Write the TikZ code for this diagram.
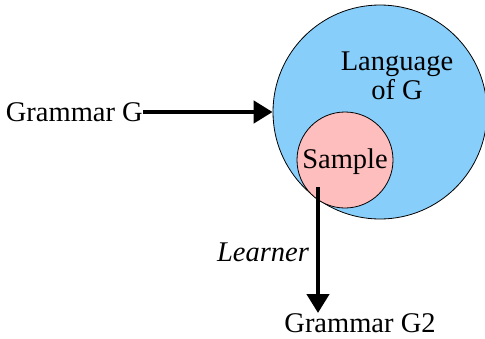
\documentclass[tikz,border=0pt]{standalone}
\usepackage{fontspec}
\setmainfont{Liberation Serif}
\usetikzlibrary{arrows.meta}
\definecolor{langblue}{RGB}{135,206,250}
\definecolor{samplepink}{RGB}{255,190,190}
\begin{document}
\begin{tikzpicture}[x=1pt,y=-1pt,
  txt/.style={font=\fontsize{28.5}{29}\selectfont, inner sep=0pt},
  bigarrow/.style={line width=4.5pt, -{Triangle[length=19pt,width=22pt]}},
  blob/.style={circle, draw=black, line width=0.8pt, inner sep=0pt}]
\useasboundingbox (0,0) rectangle (485,338);
\node[blob, fill=langblue, minimum size=214pt] (lang) at (380,112) {};
\node[blob, fill=samplepink, minimum size=96pt] (sample) at (345,160) {};
\node[txt, align=center] (langtxt) at (397,76) {Language\\of G};
\node[txt] (sampletxt) at (345,162) {Sample};
\node[txt, anchor=base east] (g) at (143,121) {Grammar G};
\node[txt, anchor=base] (g2) at (360,332) {Grammar G2};
\node[txt, font=\fontsize{28.5}{29}\selectfont\itshape] (learner) at (263,252) {Learner};
\coordinate (start) at (318,187);
\coordinate (end) at (318,313);
\draw[bigarrow] (g.east |- lang.west) -- (lang.west);
\draw[bigarrow] (start) -- (end);
\end{tikzpicture}
\end{document}
